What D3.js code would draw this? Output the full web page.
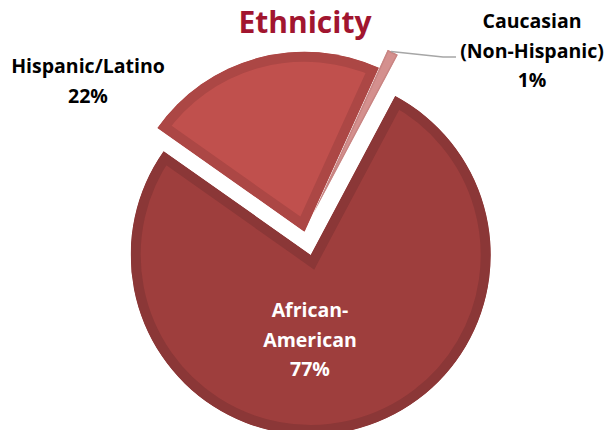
<!DOCTYPE html>
<html>
<head>
<meta charset="utf-8">
<script src="https://cdn.jsdelivr.net/npm/d3@7"></script>
<style>
  body { margin: 0; background: #fff; }
  svg { display: block; font-family: "Open Sans", Lato, sans-serif; }
</style>
</head>
<body>
<svg id="chart" width="614" height="430"></svg>
<script>
// data
var categories = ["African-American", "Hispanic/Latino", "Caucasian (Non-Hispanic)"];
var labelLines = [["African-", "American"], ["Hispanic/Latino"], ["Caucasian", "(Non-Hispanic)"]];
var percents = [77, 22, 1];

// look
var fills   = ["#9E3E3D", "#C0504D", "#D4908E"];
var borders = ["#8B3737", "#AC4745", "#C98583"];
var explode = [3, 21, 20];
var drawOrder = [0, 2, 1];   // small slice sits behind the hispanic one

var cx = 310, cy = 252, R = 180;
var rot = 28 * Math.PI / 180;

var svg = d3.select('#chart');

var pie = d3.pie()
    .sort(null)
    .value(function(d){ return d; })
    .startAngle(rot)
    .endAngle(rot + 2 * Math.PI);
var arcs = pie(percents);
arcs.forEach(function(d, i){ d.idx = i; });

var arc = d3.arc().innerRadius(0).outerRadius(R);

function polar(a, r){ return [Math.sin(a) * r, -Math.cos(a) * r]; }

function offset(d){
    var o = polar((d.startAngle + d.endAngle) / 2, explode[d.idx]);
    // the 1% slice is pulled out together with the hispanic one, then a bit further
    if (d.idx == 2) {
        var h = offset(arcs[1]);
        o = [o[0] + h[0], o[1] + h[1]];
    }
    return o;
}

var defs = svg.append('defs');
var pieGroup = svg.append('g').attr('transform', 'translate(' + cx + ',' + cy + ')');

var slices = pieGroup.selectAll('g.slice')
    .data(drawOrder.map(function(i){ return arcs[i]; }))
    .enter()
    .append('g')
    .attr('class', 'slice')
    .attr('transform', function(d){
        var o = offset(d);
        return 'translate(' + o[0] + ',' + o[1] + ')';
    });

// clip each slice to itself so the stroke ends up as an inner border
slices.each(function(d){
    defs.append('clipPath').attr('id', 'clip' + d.idx)
        .append('path').attr('d', arc(d));
});

slices.append('path')
    .attr('d', arc)
    .attr('fill', function(d){ return fills[d.idx]; })
    .attr('stroke', function(d){ return borders[d.idx]; })
    .attr('stroke-width', function(d){ return d.idx == 2 ? 3 : 20; })
    .attr('clip-path', function(d){ return 'url(#clip' + d.idx + ')'; });

// leader line for the small slice
var small = arcs[2];
var so = offset(small);
var pc = polar(small.startAngle + 0.02, R);
var p0 = [cx + so[0] + pc[0], cy + so[1] + pc[1]];
svg.append('path')
    .attr('d', d3.line()([p0, [443, 57], [456, 57]]))
    .attr('fill', 'none')
    .attr('stroke', '#A6A6A6')
    .attr('stroke-width', 1.5);

// title
svg.append('text')
    .attr('x', 305)
    .attr('y', 33)
    .attr('text-anchor', 'middle')
    .attr('fill', '#A1152F')
    .style('font-size', '30px')
    .style('font-weight', 'bold')
    .text('Ethnicity');

// labels
var labelPos = [[88, 73, '#000'], [310, 317, '#fff'], [532, 28, '#000']];
labelPos = [labelPos[1], labelPos[0], labelPos[2]];
var lineGap = 29.5;

labelLines.forEach(function(lines, i){
    var t = svg.append('text')
        .attr('text-anchor', 'middle')
        .attr('fill', labelPos[i][2])
        .style('font-size', '19.5px')
        .style('font-weight', 'bold');
    var all = lines.concat([percents[i] + '%']);
    all.forEach(function(s, k){
        t.append('tspan')
            .attr('x', labelPos[i][0])
            .attr('y', labelPos[i][1] + k * lineGap)
            .text(s);
    });
});
</script>
</body>
</html>
